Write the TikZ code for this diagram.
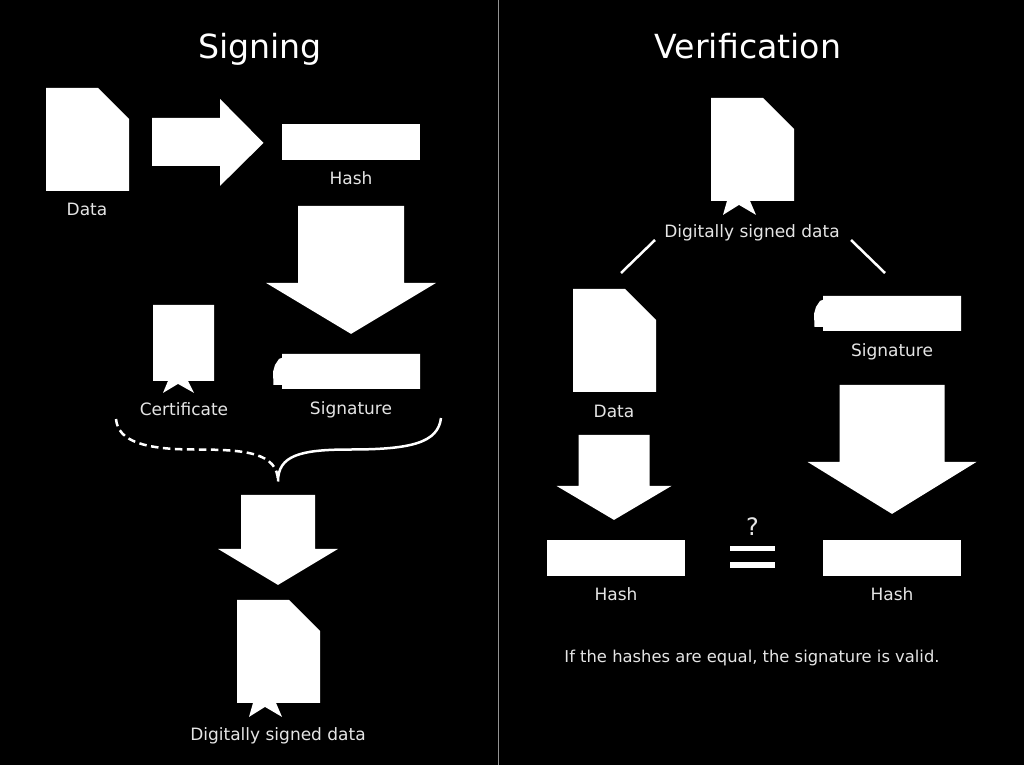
\documentclass[tikz,border=0pt]{standalone}
\usepackage{fontspec}
\setmainfont{DejaVu Sans}
\usepackage{xcolor}
\usetikzlibrary{positioning}
\definecolor{lblgray}{gray}{0.9}

\tikzset{
    pics/docshape/.style={code={
        \fill[white] (0,0) -- (52,0) -- (83,31) -- (83,103) -- (0,103) -- cycle;
    }},
    pics/signeddoc/.style={code={
        \fill[white] (0,0) -- (52,0) -- (83,31) -- (83,103) -- (39,103) -- (45,117) -- (28,107)
            -- (12,117) -- (16,103) -- (0,103) -- cycle;
    }},
    pics/certshape/.style={code={
        \fill[white] (0,0) -- (61,0) -- (61,76) -- (35,76) -- (41,88) -- (25,79)
            -- (10,88) -- (15,76) -- (0,76) -- cycle;
    }},
    pics/sigshape/.style={code={
        \fill[white] (0,0) -- (138,0) -- (138,35) -- (0,35) -- (0,31) -- (-8.5,31) -- (-9,18)
            -- (-7,11) -- (-3,5) -- (0,4) -- cycle;
    }},
    pics/downarrow/.style n args={4}{code={
        \fill[white] (-#1,0) -- (#1,0) -- (#1,#2) -- (#3,#2) -- (0,#2+#4) -- (-#3,#2) -- (-#1,#2) -- cycle;
    }}
}

\begin{document}
\begin{tikzpicture}[
    x=1pt, y=-1pt,
    lbl/.style={anchor=base, inner sep=0pt, text=lblgray, font=\fontsize{17}{20}\selectfont},
    ttl/.style={anchor=base, inner sep=0pt, text=white, font=\fontsize{33.2}{38}\selectfont},
    hashbar/.style={fill=white, minimum width=138pt, minimum height=36pt, inner sep=0pt},
    eqbar/.style={fill=white, minimum width=45pt, minimum height=5.5pt, inner sep=0pt},
    conn/.style={draw=white, line width=2.5pt}
]
\fill[black] (0,0) rectangle (1024,764);
\coordinate (divT) at (498.5,0);
\coordinate (divB) at (498.5,764);
\draw[gray!85, line width=1pt] (divT) -- (divB);

% signing
\node[ttl] (tSign) at (260,58) {Signing};
\pic at (46,87.4) {docshape};
\node[lbl] (lData) at (87,215.4) {Data};
\fill[white] (152,117.4) -- (220,117.4) -- (220,98.4) -- (263.5,142.4) -- (220,185.4) -- (220,165.4) -- (152,165.4) -- cycle;
\node[hashbar] (hashS) at (351,141.4) {};
\node[lbl] (lHash) at (351,184.4) {Hash};
\pic at (351,205.4) {downarrow={53}{77}{85}{51}};
\pic at (153,304.4) {certshape};
\node[lbl] (lCert) at (184,415.4) {Certificate};
\pic at (282,353.4) {sigshape};
\node[lbl] (lSig) at (351,414.4) {Signature};

\coordinate (cL) at (116,418.5);
\coordinate (cR) at (441,417.5);
\coordinate (cM) at (278,481);
\draw[conn, dash pattern=on 7.5pt off 4.5pt] (cL) .. controls (118,441) and (145,449) .. (195,449)
    .. controls (245,449) and (278,452) .. (cM);
\draw[conn] (cR) .. controls (438,442) and (412,449) .. (350,449)
    .. controls (300,449) and (278,455) .. (cM);

\pic at (278,494.4) {downarrow={37}{54}{60}{36}};
\pic at (237,599.4) {signeddoc};
\node[lbl] (lSigned) at (278,740.4) {Digitally signed data};

% verification
\node[ttl] (tVer) at (748,58) {Verification};
\pic at (711,97.4) {signeddoc};
\node[lbl] (lSignedV) at (752,237.4) {Digitally signed data};
\coordinate (lnLa) at (655,239.5);
\coordinate (lnLb) at (621,272.5);
\coordinate (lnRa) at (851,239.5);
\coordinate (lnRb) at (885,272.5);
\draw[conn] (lnLa) -- (lnLb);
\draw[conn] (lnRa) -- (lnRb);

\pic at (573,288.4) {docshape};
\node[lbl] (lDataV) at (614,417.4) {Data};
\pic at (823,295.4) {sigshape};
\node[lbl] (lSigV) at (892,356.4) {Signature};
\pic at (614,434.4) {downarrow={35.5}{51}{57.5}{34}};
\pic at (892,384.4) {downarrow={52.5}{77}{84.5}{52}};
\node[hashbar] (hashL) at (616,557.4) {};
\node[hashbar] (hashR) at (892,557.4) {};
\node[lbl] (lHashL) at (616,600.4) {Hash};
\node[lbl] (lHashR) at (892,600.4) {Hash};
\node[eqbar] (eqT) at (752.5,548) {};
\node[eqbar] (eqB) at (752.5,564.6) {};
\node[anchor=base, inner sep=0pt, text=lblgray, font=\fontsize{24}{28}\selectfont] (qm) at (752.5,535) {?};
\node[lbl, font=\fontsize{16.35}{20}\selectfont] (lNote) at (752,662.4) {If the hashes are equal, the signature is valid.};
\end{tikzpicture}
\end{document}
